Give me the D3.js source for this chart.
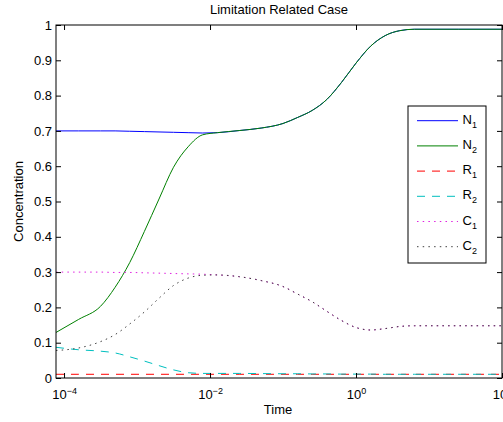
<!DOCTYPE html>
<html>
<head>
<meta charset="utf-8">
<script src="https://cdn.jsdelivr.net/npm/d3@7"></script>
<style>
body { margin: 0; background: #fff; }
svg { display: block; font-family: "Liberation Sans", Arial, sans-serif; }
</style>
</head>
<body>
<svg id="chart"></svg>
<script>
// sample times (s)
const time = [7.76e-5, 1.585e-4, 3.16e-4, 5.01e-4, 7.94e-4, 1.26e-3, 2.0e-3, 3.16e-3, 5.01e-3, 7.94e-3,
              0.0126, 0.0251, 0.0501, 0.1, 0.158, 0.251, 0.398, 0.631, 1, 1.585,
              2.512, 3.981, 6.31, 10, 25.1, 100];

const n1 = [0.700, 0.700, 0.700, 0.700, 0.699, 0.698, 0.697, 0.696, 0.695, 0.694,
            0.695, 0.701, 0.708, 0.721, 0.738, 0.758, 0.789, 0.837, 0.892, 0.940,
            0.970, 0.984, 0.988, 0.988, 0.988, 0.988];
const n2 = [0.129, 0.166, 0.203, 0.257, 0.327, 0.415, 0.507, 0.597, 0.655, 0.689,
            0.695, 0.701, 0.708, 0.721, 0.738, 0.758, 0.789, 0.837, 0.892, 0.940,
            0.970, 0.984, 0.988, 0.988, 0.988, 0.988];
const r1 = [0.0105, 0.0105, 0.0105, 0.0105, 0.0105, 0.0105, 0.0105, 0.0105, 0.0105, 0.0105,
            0.0105, 0.0105, 0.0105, 0.0105, 0.0105, 0.0105, 0.0105, 0.0105, 0.0105, 0.0105,
            0.0105, 0.0105, 0.0105, 0.0105, 0.0105, 0.0105];
const r2 = [0.087, 0.080, 0.076, 0.071, 0.060, 0.048, 0.035, 0.023, 0.015, 0.013,
            0.013, 0.013, 0.0125, 0.012, 0.012, 0.0115, 0.0115, 0.011, 0.011, 0.011,
            0.0105, 0.0105, 0.0105, 0.0105, 0.0105, 0.0105];
const c1 = [0.300, 0.300, 0.300, 0.299, 0.299, 0.298, 0.297, 0.296, 0.295, 0.294,
            0.292, 0.287, 0.276, 0.259, 0.238, 0.216, 0.189, 0.163, 0.143, 0.136,
            0.140, 0.146, 0.148, 0.148, 0.148, 0.148];
const c2 = [0.078, 0.085, 0.103, 0.123, 0.153, 0.187, 0.226, 0.262, 0.283, 0.291,
            0.292, 0.287, 0.276, 0.259, 0.238, 0.216, 0.189, 0.163, 0.143, 0.136,
            0.140, 0.146, 0.148, 0.148, 0.148, 0.148];

const seriesNames = ['N', 'N', 'R', 'R', 'C', 'C'];
const seriesSubs = ['1', '2', '1', '2', '1', '2'];

const xTicks = [1e-4, 1e-2, 1, 100];
const xTickExp = ['\u22124', '\u22122', '0', '2'];
const yTicks = [0, 0.1, 0.2, 0.3, 0.4, 0.5, 0.6, 0.7, 0.8, 0.9, 1];

const config = {
    width: 503,
    height: 422,
    margin: {top: 25, right: 1, bottom: 44, left: 56},
    title: 'Limitation Related Case',
    xlabel: 'Time',
    ylabel: 'Concentration'
};

const styles = [
    {color: '#0000ff', dash: null},
    {color: '#008000', dash: null},
    {color: '#ff0000', dash: '8,7'},
    {color: '#00bfbf', dash: '8,7'},
    {color: '#e020e0', dash: '1.5,4.2'},
    {color: '#404040', dash: '1.5,4.2'}
];

const svg = d3.select('#chart')
    .attr('width', config.width)
    .attr('height', config.height);

const iw = config.width - config.margin.left - config.margin.right;
const ih = config.height - config.margin.top - config.margin.bottom;

const chart = svg.append('g')
    .attr('transform', `translate(${config.margin.left}, ${config.margin.top})`);

const xscale = d3.scaleLog().domain([time[0], 100]).range([0, iw]);
const yscale = d3.scaleLinear().domain([0, 1]).range([ih, 0]);

chart.append('clipPath').attr('id', 'clip')
    .append('rect').attr('width', iw).attr('height', ih);

// lines
const allValues = [n1, n2, r1, r2, c1, c2];
const line = d3.line()
    .x(d => xscale(d[0]))
    .y(d => yscale(d[1]))
    .curve(d3.curveMonotoneX);

const lines = chart.append('g').attr('clip-path', 'url(#clip)');
allValues.forEach((vals, i) => {
    lines.append('path')
        .attr('d', line(time.map((t, j) => [t, vals[j]])))
        .attr('fill', 'none')
        .attr('stroke', styles[i].color)
        .attr('stroke-width', 1)
        .attr('stroke-dasharray', styles[i].dash);
});

// axes, ticks pointing inward like matlab
const xBottom = chart.append('g')
    .attr('transform', `translate(0, ${ih})`)
    .call(d3.axisBottom(xscale).tickValues(xTicks).tickSize(-5).tickSizeOuter(0).tickPadding(12));
const xTop = chart.append('g')
    .call(d3.axisTop(xscale).tickValues(xTicks).tickSize(-5).tickSizeOuter(0).tickFormat(''));
const yLeft = chart.append('g')
    .call(d3.axisLeft(yscale).tickValues(yTicks).tickSize(-5).tickSizeOuter(0).tickPadding(4)
        .tickFormat(d => String(d)));
const yRight = chart.append('g')
    .attr('transform', `translate(${iw}, 0)`)
    .call(d3.axisRight(yscale).tickValues(yTicks).tickSize(-5).tickSizeOuter(0).tickFormat(''));

[xBottom, xTop, yLeft, yRight].forEach(g => {
    g.select('.domain').remove();
    g.selectAll('.tick line').attr('stroke', '#000');
    g.selectAll('.tick text')
        .attr('fill', '#000')
        .style('font-size', '13px')
        .style('font-family', '"Liberation Sans", Arial, sans-serif');
});

xBottom.selectAll('.tick text').each(function(d, i) {
    const t = d3.select(this).text(null);
    t.append('tspan').text('10');
    t.append('tspan').attr('dy', '-0.55em').style('font-size', '9px').text(xTickExp[i]);
});

chart.append('rect')
    .attr('width', iw).attr('height', ih)
    .attr('fill', 'none')
    .attr('stroke', '#000')
    .attr('stroke-width', 1);

// title and labels
svg.append('text')
    .attr('x', config.margin.left + iw / 2)
    .attr('y', 14)
    .attr('text-anchor', 'middle')
    .style('font-size', '13px')
    .text(config.title);

svg.append('text')
    .attr('x', config.margin.left + iw / 2 - 1)
    .attr('y', 414)
    .attr('text-anchor', 'middle')
    .style('font-size', '13px')
    .text(config.xlabel);

svg.append('text')
    .attr('transform', `translate(23, ${config.margin.top + ih / 2}) rotate(-90)`)
    .attr('text-anchor', 'middle')
    .style('font-size', '13px')
    .text(config.ylabel);

// legend
const legend = svg.append('g').attr('transform', 'translate(408, 106)');
legend.append('rect')
    .attr('width', 78).attr('height', 157)
    .attr('fill', '#fff').attr('stroke', '#000').attr('stroke-width', 1);

seriesNames.forEach((name, i) => {
    const yy = 14.7 + i * 25.2;
    legend.append('line')
        .attr('x1', 9).attr('x2', 50)
        .attr('y1', yy).attr('y2', yy)
        .attr('stroke', styles[i].color)
        .attr('stroke-width', 1)
        .attr('stroke-dasharray', styles[i].dash);
    const t = legend.append('text')
        .attr('x', 54.5).attr('y', yy + 3)
        .style('font-size', '13px');
    t.append('tspan').text(name);
    t.append('tspan').attr('dy', '0.45em').style('font-size', '9px').text(seriesSubs[i]);
});
</script>
</body>
</html>
